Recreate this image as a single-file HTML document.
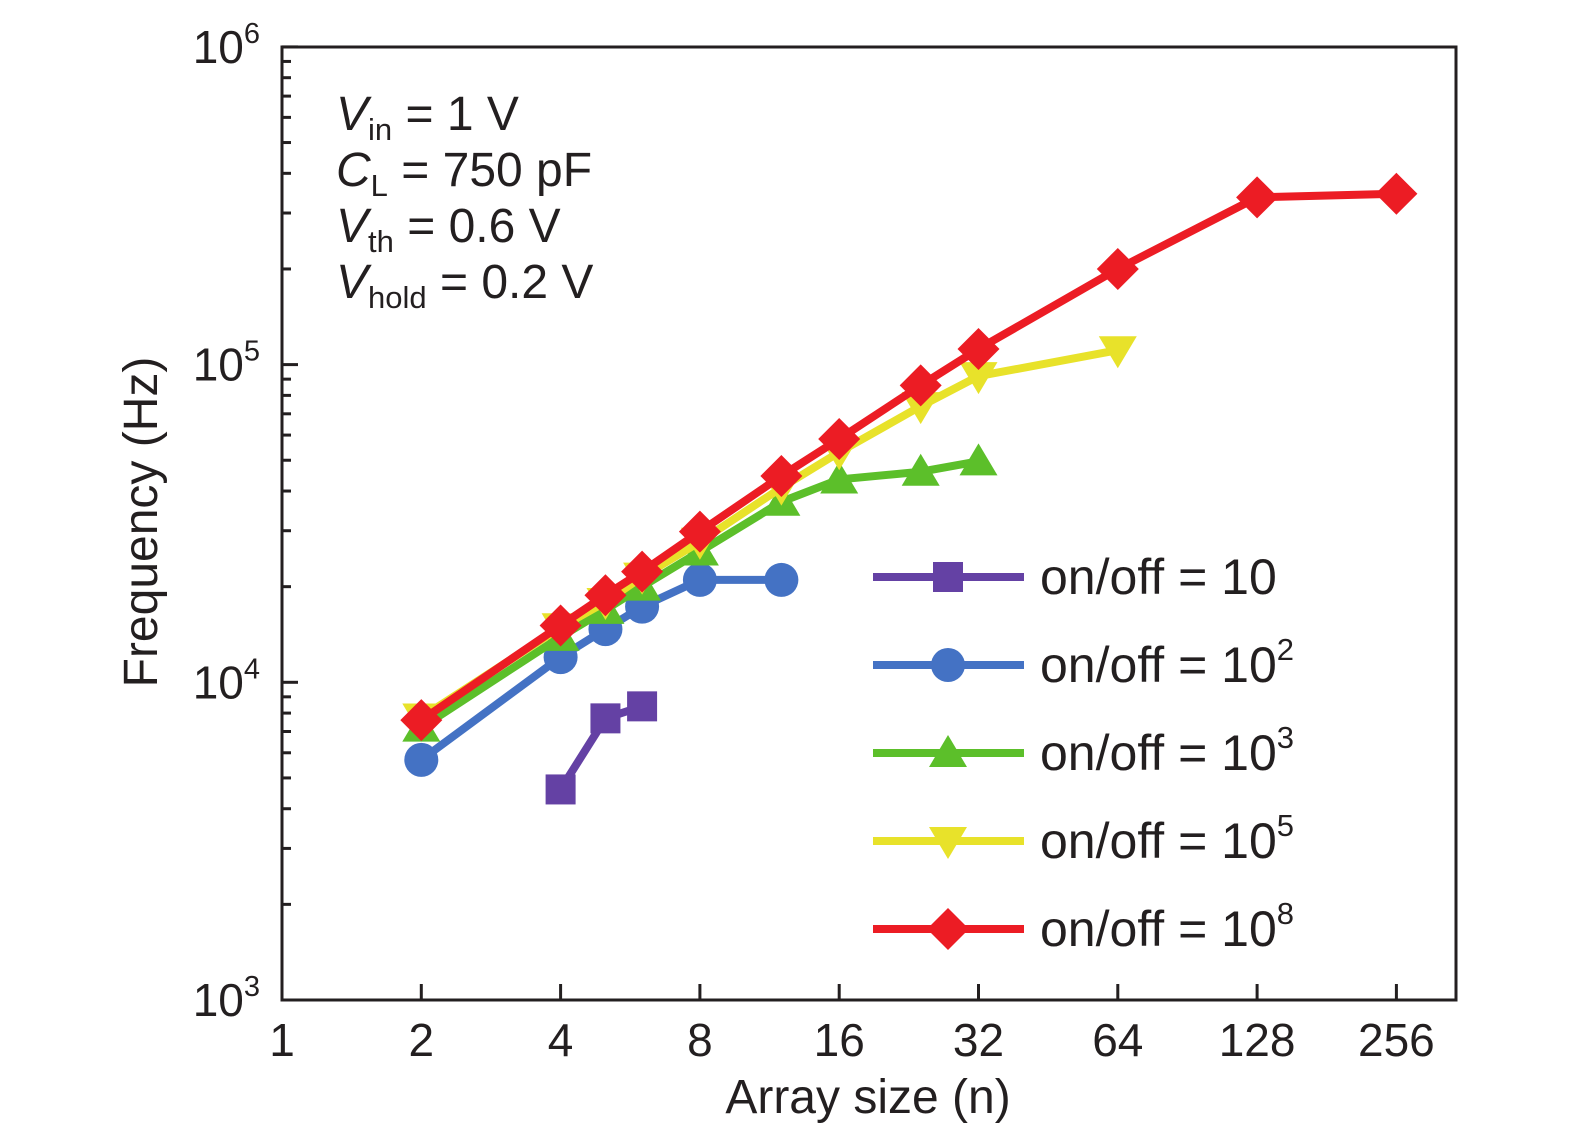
<!DOCTYPE html>
<html><head><meta charset="utf-8"><style>
body{margin:0;background:#fff;}
text{font-family:"Liberation Sans",sans-serif;fill:#231f20;}
</style></head><body>
<svg id="chart" width="1575" height="1133" xmlns="http://www.w3.org/2000/svg">
<g id="axes"></g><g id="series"></g>
<g font-size="48">
<text x="336" y="130"><tspan font-style="italic">V</tspan><tspan font-size="31" dy="10">in</tspan><tspan dy="-10"> = 1 V</tspan></text>
<text x="336" y="186"><tspan font-style="italic">C</tspan><tspan font-size="31" dy="10">L</tspan><tspan dy="-10"> = 750 pF</tspan></text>
<text x="336" y="242"><tspan font-style="italic">V</tspan><tspan font-size="31" dy="10">th</tspan><tspan dy="-10"> = 0.6 V</tspan></text>
<text x="336" y="298"><tspan font-style="italic">V</tspan><tspan font-size="31" dy="10">hold</tspan><tspan dy="-10"> = 0.2 V</tspan></text>
</g>
<g id="legend"></g>
</svg>
<script>
const xTicks=[1,2,4,8,16,32,64,128,256];
const yDecades=[3,4,5,6];
const seriesNames=["on/off = 10","on/off = 10","on/off = 10","on/off = 10","on/off = 10"];
const seriesSup=["","2","3","5","8"];
const colors=["#6441a4","#4472c4","#5cbf2a","#e8e22a","#ec1c24"];
const markers=["square","circle","triangle","tridown","diamond"];
const nPurple=[4,5,6];
const fPurple=[4600,7700,8400];
const nBlue=[2,4,5,6,8,12];
const fBlue=[5700,12000,14700,17300,21000,21000];
const nGreen=[2,4,5,6,8,12,16,24,32];
const fGreen=[7200,13900,16900,20000,25800,37000,43500,46000,49600];
const nYellow=[2,4,5,6,8,12,16,24,32,64];
const fYellow=[7750,14900,17900,21500,27700,41000,53000,74000,92000,111000];
const nRed=[2,4,5,6,8,12,16,24,32,64,128,256];
const fRed=[7600,15100,18800,22300,29800,44600,58300,86000,112000,200000,336000,345000];
const allN=[nPurple,nBlue,nGreen,nYellow,nRed];
const allF=[fPurple,fBlue,fGreen,fYellow,fRed];

const X0=282,X1=1456,Y0=1000,Y1=47;
const xs=n=>X0+Math.log2(n)*139.3;
const ys=f=>1000-(Math.log10(f)-3)*317.7;
const NS="http://www.w3.org/2000/svg";
function mk(tag,attrs,parent){const e=document.createElementNS(NS,tag);for(const k in attrs)e.setAttribute(k,attrs[k]);parent.appendChild(e);return e;}
const axes=document.getElementById('axes');
const frame=mk('rect',{x:X0,y:Y1,width:X1-X0,height:Y0-Y1,fill:'none',stroke:'#231f20','stroke-width':3},axes);


xTicks.forEach(n=>{
 const x=xs(n);
 const t=mk('line',{x1:x,x2:x,y1:Y0,y2:Y0-16,stroke:'#231f20','stroke-width':3},axes);
 
 
 const l=mk('text',{x:x,y:1056,'text-anchor':'middle','font-size':46},axes);
 l.textContent=n;
 
 
});
yDecades.forEach(d=>{
 const y=ys(Math.pow(10,d));
 const t=mk('line',{x1:X0,x2:X0+16,y1:y,y2:y,stroke:'#231f20','stroke-width':3},axes);
 
 
 const l=mk('text',{x:260,y:y+16,'text-anchor':'end','font-size':46},axes);
 l.innerHTML='10<tspan font-size="29" dy="-20">'+d+'</tspan>';
 
 
 if(d<6)for(let m=2;m<=9;m++){
  const ym=ys(m*Math.pow(10,d));
  const mt=mk('line',{x1:X0,x2:X0+9,y1:ym,y2:ym,stroke:'#231f20','stroke-width':3},axes);
  
  
 }
});
const xt=mk('text',{x:868,y:1113,'text-anchor':'middle','font-size':48},axes);
xt.textContent='Array size (n)';


const yt=mk('text',{x:0,y:0,'text-anchor':'middle','font-size':48,transform:'translate(157,522) rotate(-90)'},axes);
yt.textContent='Frequency (Hz)';



function marker(type,x,y,c,parent){
 let e;
 if(type==='square')e=mk('rect',{x:x-15,y:y-15,width:30,height:30,fill:c},parent);
 else if(type==='circle')e=mk('circle',{cx:x,cy:y,r:17,fill:c},parent);
 else if(type==='triangle')e=mk('polygon',{points:`${x},${y-18} ${x-19},${y+14} ${x+19},${y+14}`,fill:c},parent);
 else if(type==='tridown')e=mk('polygon',{points:`${x},${y+18} ${x-19},${y-14} ${x+19},${y-14}`,fill:c},parent);
 else e=mk('polygon',{points:`${x},${y-21} ${x+21},${y} ${x},${y+21} ${x-21},${y}`,fill:c},parent);
 return e;
}
const sg=document.getElementById('series');
allN.forEach((ns,i)=>{
 const g=mk('g',{},sg);
 
 
 const pts=ns.map((n,j)=>xs(n)+','+ys(allF[i][j])).join(' ');
 const pl=mk('polyline',{points:pts,fill:'none',stroke:colors[i],'stroke-width':8},g);
 
 
 ns.forEach((n,j)=>{
  const m=marker(markers[i],xs(n),ys(allF[i][j]),colors[i],g);
  
  
 });
});
const lg=document.getElementById('legend');


seriesNames.forEach((s,i)=>{
 const y=577+i*88;
 const g=mk('g',{},lg);
 
 
 mk('line',{x1:873,x2:1024,y1:y,y2:y,stroke:colors[i],'stroke-width':8},g);
 marker(markers[i],948,y,colors[i],g);
 const t=mk('text',{x:1040,y:y+17,'font-size':50},g);
 t.innerHTML=s+(seriesSup[i]?'<tspan font-size="31" dy="-22">'+seriesSup[i]+'</tspan>':'');
});
</script>
</body></html>
